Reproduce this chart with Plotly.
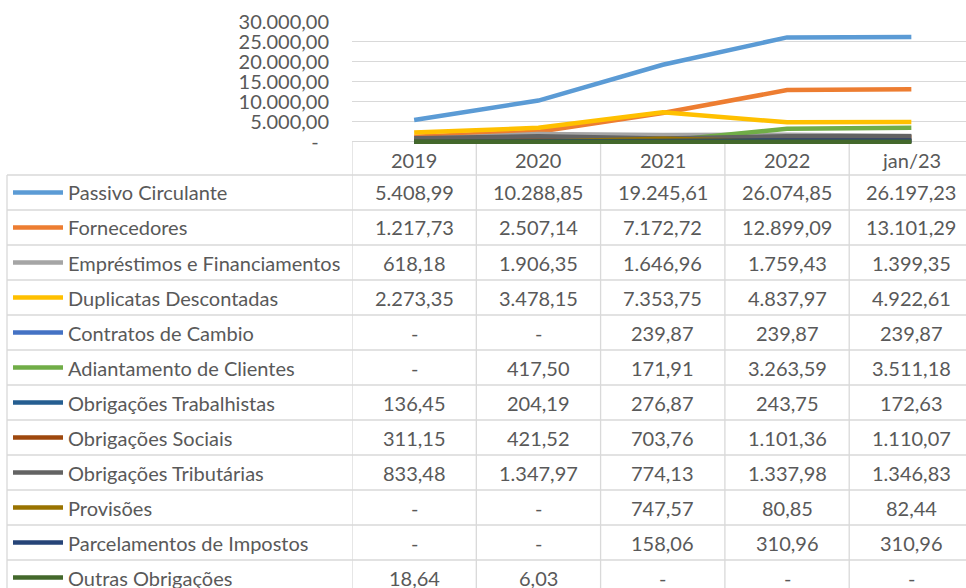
import plotly.graph_objects as go

categories = ["2019", "2020", "2021", "2022", "jan/23"]

series_names = [
    "Passivo Circulante",
    "Fornecedores",
    "Empréstimos e Financiamentos",
    "Duplicatas Descontadas",
    "Contratos de Cambio",
    "Adiantamento de Clientes",
    "Obrigações Trabalhistas",
    "Obrigações Sociais",
    "Obrigações Tributárias",
    "Provisões",
    "Parcelamentos de Impostos",
    "Outras Obrigações",
]

passivo_circulante = [5408.99, 10288.85, 19245.61, 26074.85, 26197.23]
fornecedores = [1217.73, 2507.14, 7172.72, 12899.09, 13101.29]
emprestimos_financiamentos = [618.18, 1906.35, 1646.96, 1759.43, 1399.35]
duplicatas_descontadas = [2273.35, 3478.15, 7353.75, 4837.97, 4922.61]
contratos_cambio = [0, 0, 239.87, 239.87, 239.87]
adiantamento_clientes = [0, 417.50, 171.91, 3263.59, 3511.18]
obrigacoes_trabalhistas = [136.45, 204.19, 276.87, 243.75, 172.63]
obrigacoes_sociais = [311.15, 421.52, 703.76, 1101.36, 1110.07]
obrigacoes_tributarias = [833.48, 1347.97, 774.13, 1337.98, 1346.83]
provisoes = [0, 0, 747.57, 80.85, 82.44]
parcelamentos_impostos = [0, 0, 158.06, 310.96, 310.96]
outras_obrigacoes = [18.64, 6.03, 0, 0, 0]

series_values = [
    passivo_circulante, fornecedores, emprestimos_financiamentos,
    duplicatas_descontadas, contratos_cambio, adiantamento_clientes,
    obrigacoes_trabalhistas, obrigacoes_sociais, obrigacoes_tributarias,
    provisoes, parcelamentos_impostos, outras_obrigacoes,
]

y_tick_values = [0, 5000, 10000, 15000, 20000, 25000, 30000]
y_tick_labels = ["-\u00a0\u00a0", "5.000,00", "10.000,00", "15.000,00",
                 "20.000,00", "25.000,00", "30.000,00"]

colors = ["#5B9BD5", "#ED7D31", "#A5A5A5", "#FFC000", "#4472C4", "#70AD47",
          "#255E91", "#9E480E", "#636363", "#997300", "#264478", "#43682B"]

W, H = 966, 588
FONT = "Lato"
TXT = "#595959"
GRID = "#D9D9D9"
FS = 20


def fmt(v):
    if v == 0:
        return "-"
    s = f"{v:,.2f}"
    return s.replace(",", "X").replace(".", ",").replace("X", ".")


def py(pix):
    return 1 - pix / H


fig = go.Figure()
for name, vals, c in zip(series_names, series_values, colors):
    fig.add_trace(go.Scatter(x=categories, y=vals, mode="lines", name=name,
                             line=dict(color=c, width=4.5), showlegend=False))

# y axis pixel geometry: 0 at 141.7, 30000 at 21.7
zero_pix, top_pix = 141.7, 21.7
ppu = (zero_pix - top_pix) / 30000
ymin = -1000
bottom_pix = zero_pix + (-ymin) * ppu

plot_left = 352
col_w = 124.3
x_hi = -0.5 + (W - plot_left) / col_w

shapes = []
annotations = []

row_top0 = 175
row_h = 35
for k in range(len(series_names) + 1):
    yp = row_top0 + k * row_h
    shapes.append(dict(type="line", xref="paper", yref="paper", x0=7 / W, x1=1,
                       y0=py(yp), y1=py(yp), line=dict(color=GRID, width=1.3), layer="below"))
shapes.append(dict(type="line", xref="paper", yref="paper", x0=7 / W, x1=7 / W,
                   y0=py(row_top0), y1=0, line=dict(color=GRID, width=1.3), layer="below"))
for i in range(len(categories) + 1):
    shapes.append(dict(type="line", xref="x", yref="paper", x0=i - 0.5, x1=i - 0.5,
                       y0=py(zero_pix), y1=0, line=dict(color=GRID, width=1.3), layer="below"))

for i, c in enumerate(categories):
    annotations.append(dict(x=i, y=py(160), xref="x", yref="paper", text=c,
                            showarrow=False, font=dict(family=FONT, size=FS, color=TXT),
                            xanchor="center", yanchor="middle"))

for k, (name, vals, c) in enumerate(zip(series_names, series_values, colors)):
    yc = row_top0 + k * row_h + row_h / 2
    shapes.append(dict(type="line", xref="paper", yref="paper", x0=13 / W, x1=63 / W,
                       y0=py(yc), y1=py(yc), line=dict(color=c, width=4.5)))
    annotations.append(dict(x=66 / W, y=py(yc), xref="paper", yref="paper", text=name,
                            showarrow=False, font=dict(family=FONT, size=FS, color=TXT),
                            xanchor="left", yanchor="middle"))
    for i, v in enumerate(vals):
        annotations.append(dict(x=i, y=py(yc), xref="x", yref="paper", text=fmt(v),
                                showarrow=False, font=dict(family=FONT, size=FS, color=TXT),
                                xanchor="center", yanchor="middle"))

fig.update_layout(
    width=W, height=H,
    margin=dict(l=0, r=0, t=0, b=0, pad=0),
    paper_bgcolor="white", plot_bgcolor="white",
    xaxis=dict(domain=[plot_left / W, 1], range=[-0.5, x_hi], showticklabels=False,
               showgrid=False, zeroline=False, showline=False, type="category",
               automargin=False),
    yaxis=dict(domain=[py(bottom_pix), py(top_pix)], range=[ymin, 30000],
               tickvals=y_tick_values, ticktext=y_tick_labels, showgrid=True,
               gridcolor=GRID, gridwidth=1.3, zeroline=False, showline=False,
               tickfont=dict(family=FONT, size=FS, color=TXT), ticklabelstandoff=22,
               automargin=False),
    shapes=shapes, annotations=annotations,
)

fig.write_html("out.html", config={"displayModeBar": False},
               post_script="document.body.style.margin='0';document.body.style.overflow='hidden';")
